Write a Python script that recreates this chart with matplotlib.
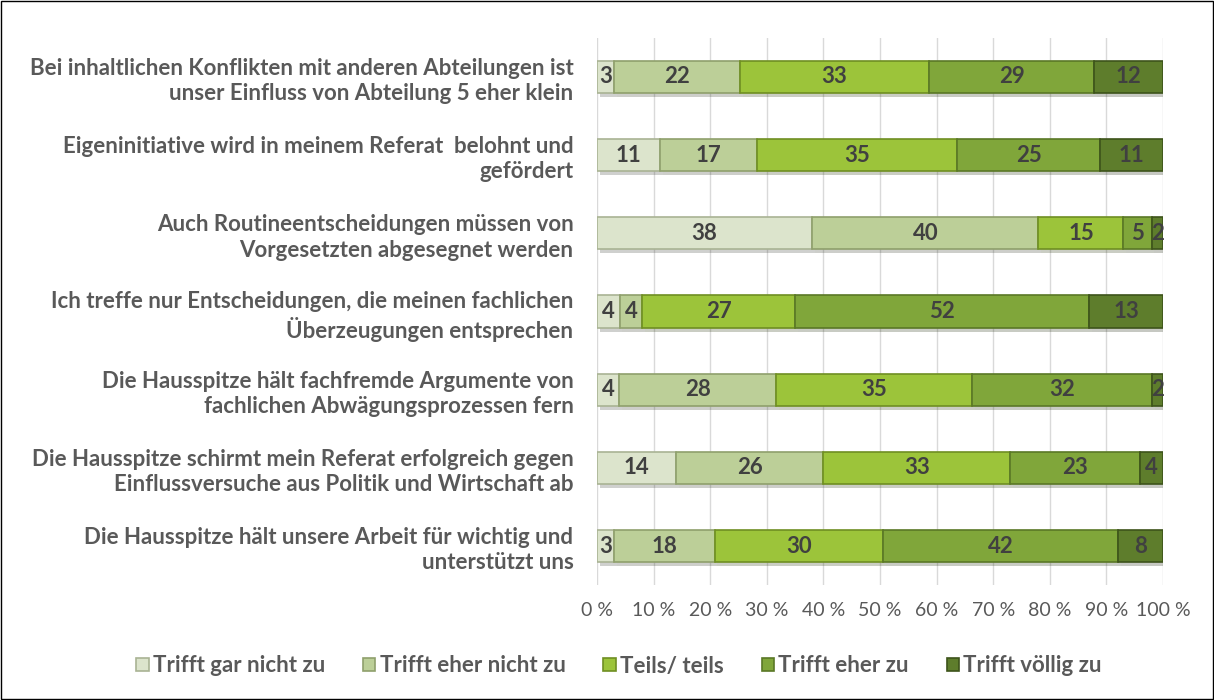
import matplotlib.pyplot as plt
import matplotlib.patheffects as pe
from matplotlib.patches import Rectangle
import numpy as np

# items, top to bottom as in the chart
items = [
    "Bei inhaltlichen Konflikten mit anderen Abteilungen ist\nunser Einfluss von Abteilung 5 eher klein",
    "Eigeninitiative wird in meinem Referat  belohnt und\ngefördert",
    "Auch Routineentscheidungen müssen von\nVorgesetzten abgesegnet werden",
    "Ich treffe nur Entscheidungen, die meinen fachlichen\nÜberzeugungen entsprechen",
    "Die Hausspitze hält fachfremde Argumente von\nfachlichen Abwägungsprozessen fern",
    "Die Hausspitze schirmt mein Referat erfolgreich gegen\nEinflussversuche aus Politik und Wirtschaft ab",
    "Die Hausspitze hält unsere Arbeit für wichtig und\nunterstützt uns",
]
categories = ["Trifft gar nicht zu", "Trifft eher nicht zu", "Teils/ teils",
              "Trifft eher zu", "Trifft völlig zu"]
gar_nicht = [3, 11, 38, 4, 4, 14, 3]
eher_nicht = [22, 17, 40, 4, 28, 26, 18]
teils = [33, 35, 15, 27, 35, 33, 30]
eher_zu = [29, 25, 5, 52, 32, 23, 42]
voellig = [12, 11, 2, 13, 2, 4, 8]
ticks = [0, 10, 20, 30, 40, 50, 60, 70, 80, 90, 100]

colors = ["#dce4cc", "#bccf98", "#9cc43a", "#80a63a", "#5e7d2c"]
edges = ["#a9b394", "#8fa06c", "#6f8f22", "#5a7826", "#3d531a"]

plt.rcParams['font.family'] = ['Lato', 'DejaVu Sans']

fig = plt.figure(figsize=(12.14, 7.0), dpi=100)
ax = fig.add_axes([0.4918, 0.164, 0.4662, 0.782])

data = np.array([gar_nicht, eher_nicht, teils, eher_zu, voellig], dtype=float)
pct = data / data.sum(axis=0) * 100
y = np.arange(len(items))[::-1]
left = np.zeros(len(items))
shadow = [pe.SimplePatchShadow(offset=(2, -3), alpha=0.25), pe.Normal()]
for i, cat in enumerate(categories):
    bars = ax.barh(y, pct[i], left=left, height=0.41, color=colors[i],
                   edgecolor=edges[i], linewidth=1.2, label=cat, zorder=3)
    for b in bars:
        b.set_path_effects(shadow)
    for yy, l, w, v in zip(y, left, pct[i], data[i]):
        ax.text(l + w / 2, yy, f"{int(v)}", ha='center', va='center',
                fontsize=16, fontweight='bold', color='#404040', zorder=4)
    left += pct[i]

ax.set_xlim(0, 100)
ax.set_ylim(-0.5, len(items) - 0.5)
ax.set_xticks(ticks)
ax.set_xticklabels([f"{t} %" for t in ticks], fontsize=14, color='#595959')
ax.set_yticks(y)
ax.set_yticklabels(items, fontsize=16, fontweight='bold', color='#595959',
                   linespacing=1.25)
ax.tick_params(axis='y', length=0, pad=17)
ax.tick_params(axis='x', length=0, pad=12)
ax.xaxis.grid(True, color='#d9d9d9', linewidth=1, zorder=0)
for s in ax.spines.values():
    s.set_visible(False)

leg = fig.legend(loc='lower center', bbox_to_anchor=(0.51, 0.005), ncol=5,
                 frameon=False, handlelength=0.55, handleheight=0.55,
                 handletextpad=0.2, columnspacing=1.7,
                 prop={'size': 16, 'weight': 'bold'})
for t in leg.get_texts():
    t.set_color('#595959')
for h in leg.legend_handles:
    h.set_path_effects([])

fig.patches.append(Rectangle((0.001, 0.001), 0.998, 0.998, transform=fig.transFigure,
                             fill=False, edgecolor='black', linewidth=1))

fig.savefig("out.png", dpi=100)
